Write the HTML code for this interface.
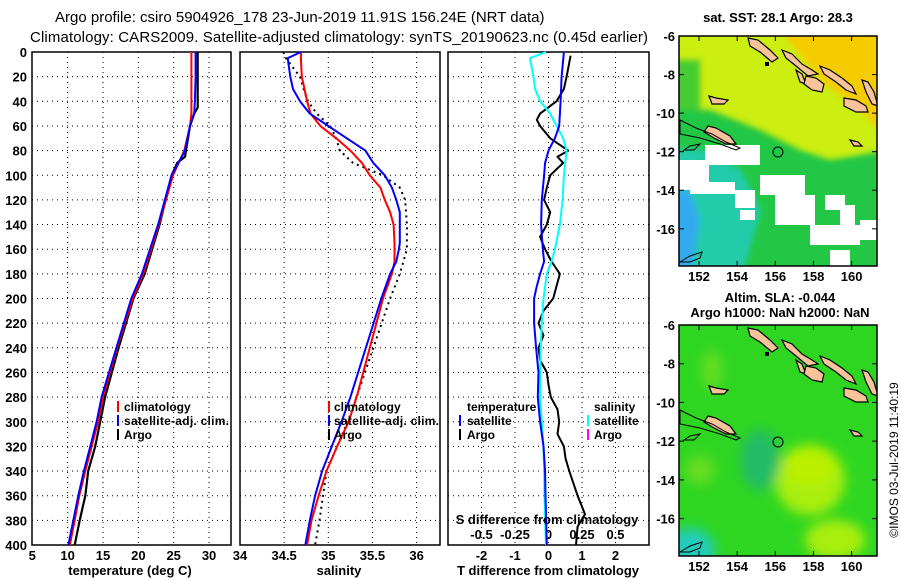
<!DOCTYPE html>
<html><head><meta charset="utf-8"><style>
html,body{margin:0;padding:0;background:#fff;}
svg{display:block;font-family:"Liberation Sans",Arial,sans-serif;}
.t{font-size:13px;font-weight:bold;fill:#000;}
.lg{font-size:12px;font-weight:bold;fill:#000;}
.ti{font-size:15px;fill:#000;}
</style></head><body>
<svg id="fig" width="900" height="580" viewBox="0 0 900 580" xmlns="http://www.w3.org/2000/svg">
<defs>
<clipPath id="c1"><rect x="679" y="36" width="198" height="230"/></clipPath>
<clipPath id="c2"><rect x="679" y="325" width="198" height="231"/></clipPath>
<filter id="bl" x="-20%" y="-20%" width="140%" height="140%"><feGaussianBlur stdDeviation="6"/></filter>
<filter id="bl2" x="-20%" y="-20%" width="140%" height="140%"><feGaussianBlur stdDeviation="3"/></filter>
<g id="isl">
<polygon points="748,38 758,40 770,50 778,58 772,62 760,52 750,46" fill="#f7c39a" stroke="#000" stroke-width="1.2"/>
<polygon points="782,50 792,54 802,64 812,70 818,74 808,76 796,66 786,58" fill="#f7c39a" stroke="#000" stroke-width="1.2"/>
<polygon points="820,66 830,70 842,78 852,86 856,94 846,90 836,82 824,74" fill="#f7c39a" stroke="#000" stroke-width="1.2"/>
<polygon points="796,70 802,74 806,84 800,82" fill="#f7c39a" stroke="#000" stroke-width="1.2"/>
<polygon points="806,76 816,78 824,84 822,92 812,90 804,84" fill="#f7c39a" stroke="#000" stroke-width="1.2"/>
<polygon points="844,98 856,100 866,106 868,112 856,112 844,106" fill="#f7c39a" stroke="#000" stroke-width="1.2"/>
<polygon points="862,80 868,82 874,92 878,106 872,104 866,92" fill="#f7c39a" stroke="#000" stroke-width="1.2"/>
<polygon points="708,126 716,128 730,136 736,144 726,144 714,138 704,132" fill="#f7c39a" stroke="#000" stroke-width="1.2"/>
<polygon points="709,96 716,98 728,100 724,104 712,104" fill="#f7c39a" stroke="#000" stroke-width="1.2"/>
<polygon points="850,140 858,142 862,146 854,146" fill="#f7c39a" stroke="#000" stroke-width="1.2"/>
<polygon points="684,150 690,146 700,144 694,150" fill="none" stroke="#000" stroke-width="1"/>
<polygon points="680,120 696,128 712,134 726,142 740,148 736,150 720,144 700,138 680,134" fill="none" stroke="#000" stroke-width="1"/>
<polygon points="680,262 690,256 702,252 700,258 690,262" fill="none" stroke="#000" stroke-width="1"/>
<rect x="765" y="62" width="4" height="4" fill="#000"/>
</g>
</defs>

<text class="ti" x="55" y="22">Argo profile: csiro 5904926_178 23-Jun-2019 11.91S 156.24E (NRT data)</text>
<text class="ti" x="30" y="42" textLength="618">Climatology: CARS2009. Satellite-adjusted climatology: synTS_20190623.nc (0.45d earlier)</text>

<g id="grid"></g>
<g id="axes"></g>
<g id="series"></g>

<g>
<line x1="118" y1="401" x2="118" y2="412" stroke="#f00" stroke-width="2"/><text class="lg" x="124" y="411">climatology</text>
<line x1="118" y1="415" x2="118" y2="426" stroke="#00f" stroke-width="2"/><text class="lg" x="124" y="425" textLength="105">satellite-adj. clim.</text>
<line x1="118" y1="429" x2="118" y2="440" stroke="#000" stroke-width="2"/><text class="lg" x="124" y="439">Argo</text>
</g>
<g>
<line x1="329" y1="401" x2="329" y2="412" stroke="#f00" stroke-width="2"/><text class="lg" x="334" y="411">climatology</text>
<line x1="329" y1="415" x2="329" y2="426" stroke="#00f" stroke-width="2"/><text class="lg" x="334" y="425" textLength="105">satellite-adj. clim.</text>
<line x1="329" y1="429" x2="329" y2="440" stroke="#000" stroke-width="2"/><text class="lg" x="334" y="439">Argo</text>
</g>
<g>
<text class="lg" x="467" y="411">temperature</text>
<line x1="460" y1="415" x2="460" y2="426" stroke="#00f" stroke-width="2"/><text class="lg" x="467" y="425">satellite</text>
<line x1="460" y1="429" x2="460" y2="440" stroke="#000" stroke-width="2"/><text class="lg" x="467" y="439">Argo</text>
<text class="lg" x="594" y="411">salinity</text>
<line x1="588" y1="415" x2="588" y2="426" stroke="#0ff" stroke-width="2"/><text class="lg" x="594" y="425">satellite</text>
<line x1="588" y1="429" x2="588" y2="440" stroke="#f0f" stroke-width="2"/><text class="lg" x="594" y="439">Argo</text>
</g>

<text class="t" x="130" y="575" text-anchor="middle">temperature (deg C)</text>
<text class="t" x="339" y="575" text-anchor="middle">salinity</text>
<text class="t" x="548" y="575" text-anchor="middle">T difference from climatology</text>
<text class="t" x="547" y="524" text-anchor="middle">S difference from climatology</text>

<text class="t" x="778" y="22" text-anchor="middle">sat. SST: 28.1 Argo: 28.3</text>
<g clip-path="url(#c1)">
<rect x="679" y="36" width="198" height="230" fill="#ccee10"/>
<g filter="url(#bl2)">
<polygon points="780,30 890,30 890,140 860,110 820,80" fill="#f5cc00"/>
<polygon points="670,110 710,110 760,130 800,150 830,160 890,150 890,280 670,280" fill="#22c844"/>
<polygon points="670,60 700,60 700,110 670,110" fill="#44cc33"/>
<polygon points="670,150 700,150 740,170 760,210 740,280 670,280" fill="#22ccaa"/>
<polygon points="670,190 690,190 700,220 690,280 670,280" fill="#33aaee"/>
</g>
<g fill="#fff">
<rect x="679" y="160" width="30" height="30"/><rect x="705" y="145" width="55" height="20"/>
<rect x="690" y="182" width="45" height="12"/><rect x="760" y="175" width="45" height="20"/>
<rect x="735" y="190" width="20" height="18"/><rect x="775" y="195" width="40" height="30"/>
<rect x="825" y="195" width="20" height="15"/><rect x="810" y="225" width="50" height="20"/>
<rect x="840" y="205" width="15" height="20"/><rect x="860" y="220" width="17" height="20"/>
<rect x="740" y="210" width="15" height="10"/><rect x="830" y="250" width="20" height="16"/>
</g>
<use href="#isl"/>
<circle cx="778" cy="152" r="5" fill="none" stroke="#000" stroke-width="1"/>
</g>
<rect x="679" y="36" width="198" height="230" fill="none" stroke="#000" stroke-width="1.5"/>

<text class="t" x="780" y="302" text-anchor="middle">Altim. SLA: -0.044</text>
<text class="t" x="780" y="317" text-anchor="middle">Argo h1000: NaN h2000: NaN</text>
<g clip-path="url(#c2)">
<rect x="679" y="325" width="198" height="231" fill="#2ed622"/>
<g filter="url(#bl)">
<ellipse cx="810" cy="480" rx="35" ry="35" fill="#aaee11"/>
<ellipse cx="810" cy="465" rx="25" ry="20" fill="#bbf000"/>
<ellipse cx="835" cy="540" rx="30" ry="20" fill="#aaee11"/>
<ellipse cx="760" cy="460" rx="20" ry="30" fill="#22bb66"/>
<ellipse cx="700" cy="470" rx="15" ry="15" fill="#66dd22"/>
<ellipse cx="712" cy="370" rx="10" ry="20" fill="#66dd22"/>
<ellipse cx="690" cy="550" rx="25" ry="22" fill="#22ccbb"/>
</g>
<g transform="translate(0,290)"><use href="#isl"/></g>
<circle cx="778" cy="442" r="5" fill="none" stroke="#000" stroke-width="1"/>
</g>
<rect x="679" y="325" width="198" height="231" fill="none" stroke="#000" stroke-width="1.5"/>
<g id="mapaxes"></g>
<text x="0" y="0" transform="translate(898,460) rotate(-90)" text-anchor="middle" style="font-size:12px">©IMOS 03-Jul-2019 11:40:19</text>
</svg>
<script>
const tDepth = [0,20,40,50,60,80,100,140,180,200,240,280,300,320,340,360,380,400];
const tClim  = [27.5,27.5,27.5,27.5,27.3,26.5,24.9,22.9,20.7,19.2,17.0,15.0,14.3,13.4,12.5,11.65,11.0,10.3];
const tSat   = [28.1,28.1,28.0,27.9,27.3,26.6,24.7,22.8,20.5,19.0,16.9,14.8,14.1,13.2,12.3,11.5,10.8,10.1];
const argoDepth = [0,45,50,60,85,90,100,140,180,200,240,280,300,320,340,360,380,400];
const tArgo  = [28.4,28.4,27.9,27.3,26.6,25.5,24.7,23.0,20.9,19.3,17.2,15.3,14.6,13.9,12.9,12.5,11.7,11.0];
const sDepth = [0,5,20,30,40,50,60,70,80,90,100,110,120,130,140,155,160,170,180,200,280,300,320,340,360,380,400];
const sClim  = [34.69,34.69,34.70,34.73,34.76,34.80,34.91,35.09,35.25,35.38,35.47,35.59,35.64,35.70,35.74,35.75,35.75,35.75,35.72,35.62,35.32,35.23,35.10,34.98,34.89,34.81,34.76];
const sSat   = [34.69,34.54,34.57,34.60,34.68,34.79,35.00,35.21,35.42,35.51,35.64,35.72,35.77,35.81,35.81,35.81,35.80,35.77,35.70,35.60,35.25,35.15,35.04,34.93,34.85,34.79,34.74];
const sArgo  = [34.49,34.52,34.68,34.72,34.77,34.87,35.02,35.09,35.13,35.28,35.62,35.81,35.87,35.88,35.89,35.89,35.89,35.85,35.81,35.70,35.32,35.22,35.10,34.98,34.94,34.90,34.85];
const dDepthS = [0,5,20,30,40,50,60,70,80,100,120,140,160,170,180,200,220,240,260,280,300,320,340,360,380,400];
const dSSat   = [-0.019,-0.138,-0.113,-0.10,-0.062,0.0125,0.061,0.11,0.135,0.115,0.105,0.085,0.0475,0.0225,-0.0125,-0.037,-0.05,-0.058,-0.062,-0.062,-0.05,-0.037,-0.033,-0.03,-0.025,-0.019];
const dDepthT = [0,20,40,60,70,80,90,100,120,140,160,170,180,190,200,220,240,260,280,300,320,340,360,380,400];
const dTSat   = [0.46,0.39,0.36,0.32,0.19,0.0,-0.1,-0.13,-0.2,-0.22,-0.17,-0.13,-0.25,-0.35,-0.43,-0.43,-0.37,-0.3,-0.32,-0.25,-0.15,-0.1,-0.09,-0.07,-0.05];
const dDepthA = [3,20,30,40,50,55,60,70,80,85,90,100,110,120,130,140,150,160,170,180,190,200,210,220,230,240,250,260,270,280,290,300,310,320,330,340,360,375,385,400];
const dTArgo  = [0.66,0.54,0.46,0.24,-0.25,-0.35,-0.25,0.05,0.59,0.27,0.44,0.05,-0.05,-0.13,0.05,-0.05,-0.25,-0.1,0.09,0.34,0.24,0.14,-0.15,-0.3,-0.15,-0.3,-0.25,-0.05,0.0,0.07,0.27,0.32,0.27,0.46,0.51,0.62,0.87,1.09,0.87,0.82];
const yTicks = [0,20,40,60,80,100,120,140,160,180,200,220,240,260,280,300,320,340,360,380,400];
const tTicks = [5,10,15,20,25,30];
const sTicks = [34.5,35,35.5,36];
const dTicks = [-2,-1,0,1,2];
const sdTickLabels = ["-0.5","-0.25","0","0.25","0.5"];
const latTicks = [-6,-8,-10,-12,-14,-16];
const lonTicks = [152,154,156,158,160];

const NS="http://www.w3.org/2000/svg";
const Y0=52, Y1=545;
const y = d => Y0 + d*(Y1-Y0)/400;
const xT = v => 32.3 + (v-5)*7.07;
const xS = v => 240 + (v-34)*88.3;
const xD = v => 548.5 + v*33.5;
const xSD = v => xD(v*4);
const panels=[[32,231],[240,440],[448,649]];
function mk(tag, attrs, parent){const e=document.createElementNS(NS,tag);for(const k in attrs)e.setAttribute(k,attrs[k]);parent.appendChild(e);return e;}
const G=document.getElementById('grid'), A=document.getElementById('axes'), S=document.getElementById('series'), M=document.getElementById('mapaxes');
panels.forEach(([a,b])=>{yTicks.forEach(d=>{if(d>0&&d<400){const l=mk('line',{x1:a,x2:b,y1:y(d),y2:y(d),stroke:'#000','stroke-width':1,'stroke-dasharray':'1,4'},G);

}});});
const vgrid=[...tTicks.filter(v=>v>5).map(xT),...sTicks.map(xS),...dTicks.map(xD)];
vgrid.forEach(x=>{const l=mk('line',{x1:x,x2:x,y1:Y0,y2:Y1,stroke:'#000','stroke-width':1,'stroke-dasharray':'1,4'},G);

});
panels.forEach(([a,b])=>{const r=mk('rect',{x:a,y:Y0,width:b-a,height:Y1-Y0,fill:'none',stroke:'#000','stroke-width':1.5},A);

});
yTicks.forEach(d=>{const t=mk('text',{x:27,y:y(d)+5,'text-anchor':'end',class:'t'},A);t.textContent=d;

});
function xl(x,txt,yy){const t=mk('text',{x:x,y:yy,'text-anchor':'middle',class:'t'},A);t.textContent=txt;

}
tTicks.forEach(v=>xl(xT(v),v,560));
xl(240,'34',560);
sTicks.forEach(v=>xl(xS(v),v,560));
dTicks.forEach(v=>xl(xD(v),v,560));
dTicks.forEach((v,i)=>xl(xD(v),sdTickLabels[i],539));
function line(xs,ds,fx,col,w,dash,name){const p=xs.map((v,i)=>fx(v).toFixed(1)+','+y(ds[i]).toFixed(1)).join(' ');
const e=mk('polyline',{points:p,fill:'none',stroke:col,'stroke-width':w,'stroke-linejoin':'round'},S);if(dash)e.setAttribute('stroke-dasharray',dash);

}
line(tArgo,argoDepth,xT,'#000',2.2,null,'temperature-argo-line');
line(tClim,tDepth,xT,'#f00',2,null,'temperature-climatology-line');
line(tSat,tDepth,xT,'#00f',2,null,'temperature-satellite-line');
line(sArgo,sDepth,xS,'#000',2,'2,4','salinity-argo-line');
line(sClim,sDepth,xS,'#f00',2,null,'salinity-climatology-line');
line(sSat,sDepth,xS,'#00f',2,null,'salinity-satellite-line');
line(dTArgo,dDepthA,xD,'#000',2,null,'t-difference-argo-line');
line(dSSat,dDepthS,xSD,'#0ff',2,null,'s-difference-satellite-line');
line(dTSat,dDepthT,xD,'#00f',2,null,'t-difference-satellite-line');
[[36,266],[325,556]].forEach(([top,bot])=>{
 const py = lat => top + (-6-lat)*(bot-top)/11.93;
 latTicks.forEach(l=>{const yy=py(l);
  mk('line',{x1:679,x2:684,y1:yy,y2:yy,stroke:'#000'},M);mk('line',{x1:872,x2:877,y1:yy,y2:yy,stroke:'#000'},M);
  const t=mk('text',{x:675,y:yy+5,'text-anchor':'end',class:'t'},M);t.textContent=l;
  
  });
 lonTicks.forEach(l=>{const xx=699+(l-152)*19.08;
  mk('line',{x1:xx,x2:xx,y1:top,y2:top+5,stroke:'#000'},M);mk('line',{x1:xx,x2:xx,y1:bot-5,y2:bot,stroke:'#000'},M);
  const t=mk('text',{x:xx,y:bot+15,'text-anchor':'middle',class:'t'},M);t.textContent=l;
  
  });
});
</script>
</body></html>
